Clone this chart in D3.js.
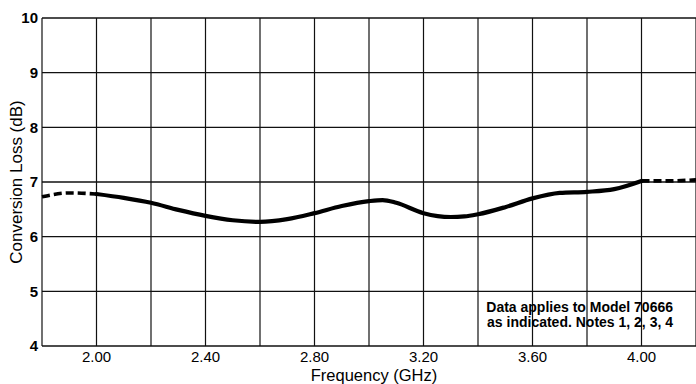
<!DOCTYPE html>
<html>
<head>
<meta charset="utf-8">
<script src="https://cdn.jsdelivr.net/npm/d3@7"></script>
<style>
  body { margin: 0; background: #fff; }
  svg { display: block; font-family: "Liberation Sans", Arial, sans-serif; }
</style>
</head>
<body>
<div id="chart"></div>
<script>
// frequency (GHz) and conversion loss (dB)
var freqs  = [1.80, 1.90, 2.00, 2.10, 2.20, 2.30, 2.40, 2.50, 2.60, 2.70, 2.80, 2.90, 3.00, 3.05, 3.10, 3.20, 3.30, 3.35, 3.40, 3.50, 3.60, 3.70, 3.80, 3.90, 4.00, 4.10, 4.20];
var losses = [6.73, 6.80, 6.78, 6.71, 6.62, 6.49, 6.38, 6.30, 6.27, 6.32, 6.43, 6.56, 6.65, 6.67, 6.62, 6.43, 6.36, 6.37, 6.41, 6.54, 6.70, 6.80, 6.82, 6.87, 7.02, 7.02, 7.04];
var gridX = [1.8, 2.0, 2.2, 2.4, 2.6, 2.8, 3.0, 3.2, 3.4, 3.6, 3.8, 4.0, 4.2];
var tickX = [2.0, 2.4, 2.8, 3.2, 3.6, 4.0];
var tickY = [4, 5, 6, 7, 8, 9, 10];
var noteLines = ["Data applies to Model 70666", "as indicated. Notes 1, 2, 3, 4"];

var W = 696, H = 384;
var margin = {top: 18, right: 0, bottom: 38, left: 42};

var svg = d3.select("#chart").append("svg")
    .attr("width", W).attr("height", H);

var x = d3.scaleLinear().domain([1.8, 4.2]).range([margin.left, W - margin.right]);
var y = d3.scaleLinear().domain([4, 10]).range([H - margin.bottom, margin.top]);

// grid
svg.append("g").selectAll("line.v")
  .data(gridX).enter().append("line")
    .attr("x1", function(d){ return x(d); }).attr("x2", function(d){ return x(d); })
    .attr("y1", y(4)).attr("y2", y(10))
    .attr("stroke", "#111").attr("stroke-width", 1.2);

svg.append("g").selectAll("line.h")
  .data(tickY).enter().append("line")
    .attr("x1", x(1.8)).attr("x2", x(4.2))
    .attr("y1", function(d){ return y(d); }).attr("y2", function(d){ return y(d); })
    .attr("stroke", "#111").attr("stroke-width", 1.3);

// y axis labels
svg.append("g").selectAll("text")
  .data(tickY).enter().append("text")
    .attr("x", margin.left - 4)
    .attr("y", function(d){ return y(d); })
    .attr("dy", "0.36em")
    .attr("text-anchor", "end")
    .style("font-size", "15px")
    .style("font-weight", "bold")
    .text(function(d){ return d; });

// x axis labels
svg.append("g").selectAll("text")
  .data(tickX).enter().append("text")
    .attr("x", function(d){ return x(d); })
    .attr("y", y(4) + 16)
    .attr("text-anchor", "middle")
    .style("font-size", "15px")
    .text(function(d){ return d3.format(".2f")(d); });

svg.append("text")
  .attr("x", 374).attr("y", 381)
  .attr("text-anchor", "middle")
  .style("font-size", "16.5px")
  .text("Frequency (GHz)");

svg.append("text")
  .attr("transform", "translate(22," + 182 + ") rotate(-90)")
  .attr("text-anchor", "middle")
  .style("font-size", "17px")
  .text("Conversion Loss (dB)");

// curve: dashed outside 2.00-4.00, solid inside
var pts = freqs.map(function(f, i){ return [f, losses[i]]; });
var line = d3.line()
  .curve(d3.curveMonotoneX)
  .x(function(d){ return x(d[0]); })
  .y(function(d){ return y(d[1]); });

var solid = pts.filter(function(d){ return d[0] >= 2.0 && d[0] <= 4.0; });
var left = pts.filter(function(d){ return d[0] <= 2.0; });
var right = pts.filter(function(d){ return d[0] >= 4.0; });

svg.append("path").datum(solid)
  .attr("d", line).attr("fill", "none")
  .attr("stroke", "#000").attr("stroke-width", 4.2)
  .attr("stroke-linecap", "round");

[left, right].forEach(function(seg){
  svg.append("path").datum(seg)
    .attr("d", line).attr("fill", "none")
    .attr("stroke", "#000").attr("stroke-width", 3.6)
    .attr("stroke-dasharray", "8,4");
});

// note
var note = svg.append("text")
  .attr("x", 673).attr("y", 312)
  .attr("text-anchor", "end")
  .style("font-size", "14px")
  .style("font-weight", "bold");
noteLines.forEach(function(t, i){
  note.append("tspan").attr("x", 673).attr("dy", i ? 15 : 0).text(t);
});
</script>
</body>
</html>
